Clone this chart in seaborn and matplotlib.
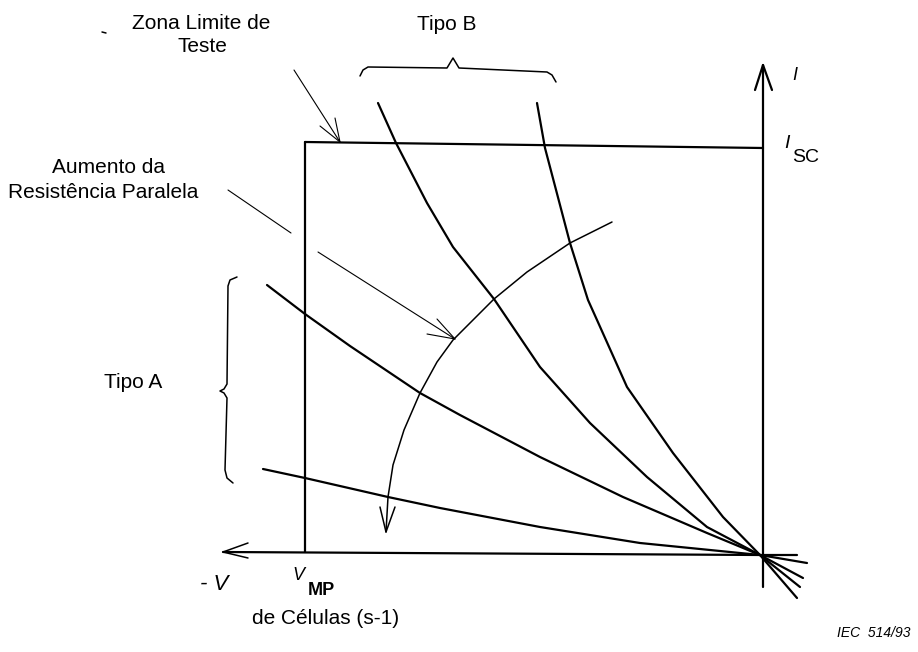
import matplotlib
matplotlib.use("Agg")
import matplotlib.pyplot as plt
import numpy as np
import pandas as pd
import seaborn as sns

# Diagram units: v = voltage (negative to the left of the I axis), i = current.
# Origin sits where the characteristic curves meet the V axis.

# Tipo B characteristic curves (steep)
tipo_b1_v = [-382, -364, -333, -307, -266, -220, -170, -113, -53, 0, 40]
tipo_b1_i = [452, 412, 352, 308, 256, 188, 132, 78, 28, 0, -32]
tipo_b2_v = [-223, -215, -190, -172, -163, -133, -87, -37, 0, 37]
tipo_b2_i = [452, 407, 312, 255, 235, 168, 102, 38, 0, -43]

# Tipo A characteristic curves (shallow)
tipo_a1_v = [-493, -455, -410, -340, -300, -220, -137, -53, 0, 43]
tipo_a1_i = [270, 241, 209, 162, 140, 98, 58, 22, 0, -23]
tipo_a2_v = [-497, -455, -372, -320, -220, -120, 0, 47]
tipo_a2_i = [86, 77, 58, 47, 28, 12, 0, -8]

# Arc showing increasing parallel resistance, with its arrow head
arc_v = [-148, -190, -233, -266, -287, -307, -323, -340, -356, -367, -372, -374]
arc_i = [333, 312, 283, 256, 235, 215, 193, 162, 125, 90, 58, 23]
arc_head_v = [-380, -374, -365]
arc_head_i = [48, 23, 48]

# Axes of the I-V plane and the test limit rectangle
v_axis_v = [-537, 0, 37]
v_axis_i = [3, 0, 0]
v_head_v = [-512, -537, -512]
v_head_i = [12, 3, -3]
i_axis_v = [3, 3]
i_axis_i = [-32, 490]
i_head_v = [-5, 3, 12]
i_head_i = [465, 490, 465]
vmp_line_v = [-455, -455]
vmp_line_i = [3, 413]
isc_line_v = [-455, 3]
isc_line_i = [413, 407]

# Braces
brace_b_v = [-400, -397, -392, -313, -307, -301, -213, -208, -204]
brace_b_i = [479, 485, 488, 487, 497, 487, 483, 480, 473]
brace_a_v = [-523, -530, -532, -533, -536, -540, -536, -533, -535, -533, -527]
brace_a_i = [278, 275, 269, 171, 166, 164, 162, 157, 85, 77, 72]

# Leader lines
zona_leader_v = [-466, -420]
zona_leader_i = [485, 413]
zona_head_v = [-440, -420, -425]
zona_head_i = [429, 413, 437]
aumento_leader1_v = [-532, -469]
aumento_leader1_i = [365, 322]
aumento_leader2_v = [-442, -305]
aumento_leader2_i = [303, 216]
aumento_head_v = [-323, -305, -333]
aumento_head_i = [236, 216, 221]
tick_mark_v = [-658, -654]
tick_mark_i = [523, 522]


def frame(pairs):
    rows = []
    for name, vs, cs in pairs:
        for k, (v, c) in enumerate(zip(vs, cs)):
            rows.append({"curve": name, "order": k, "v": v, "i": c})
    return pd.DataFrame(rows)


heavy = frame([
    ("b1", tipo_b1_v, tipo_b1_i), ("b2", tipo_b2_v, tipo_b2_i),
    ("a1", tipo_a1_v, tipo_a1_i), ("a2", tipo_a2_v, tipo_a2_i),
    ("vax", v_axis_v, v_axis_i), ("iax", i_axis_v, i_axis_i),
    ("vmp", vmp_line_v, vmp_line_i), ("isc", isc_line_v, isc_line_i),
    ("ihead", i_head_v, i_head_i),
])
medium = frame([
    ("arc", arc_v, arc_i), ("archead", arc_head_v, arc_head_i),
    ("vhead", v_head_v, v_head_i),
    ("braceb", brace_b_v, brace_b_i), ("bracea", brace_a_v, brace_a_i),
    ("tick", tick_mark_v, tick_mark_i),
])
light = frame([
    ("zl", zona_leader_v, zona_leader_i), ("zh", zona_head_v, zona_head_i),
    ("al1", aumento_leader1_v, aumento_leader1_i),
    ("al2", aumento_leader2_v, aumento_leader2_i),
    ("ah", aumento_head_v, aumento_head_i),
])

sns.set_theme(style="white")
plt.rcParams["font.family"] = ["Liberation Sans", "DejaVu Sans"]

fig = plt.figure(figsize=(9.18, 6.52), dpi=100)
ax = fig.add_axes([0, 0, 1, 1])

for df, lw in ((heavy, 1.6), (medium, 1.1), (light, 0.8)):
    sns.lineplot(data=df, x="v", y="i", units="curve", estimator=None,
                 sort=False, color="black", linewidth=lw, ax=ax, legend=False,
                 solid_joinstyle="round", solid_capstyle="round")

ax.set_xlim(-760, 158)
ax.set_ylim(-97, 555)
ax.set_axis_off()

txt = dict(color="black", fontsize=15)
ax.text(-559, 526, "Zona Limite de", ha="center", va="baseline", **txt)
ax.text(-558, 503, "Teste", ha="center", va="baseline", **txt)
ax.text(-313, 525, "Tipo B", ha="center", va="baseline", **txt)
ax.text(-652, 382, "Aumento da", ha="center", va="baseline", **txt)
ax.text(-657, 357, "Resistência Paralela", ha="center", va="baseline", **txt)
ax.text(-598, 167, "Tipo A", ha="right", va="baseline", **txt)
ax.text(-434, -69, "de Células (s-1)", ha="center", va="baseline", **txt)

ax.text(-532, -35, "- V", ha="right", va="baseline", fontsize=16,
        style="italic", color="black")
ax.text(-462, -25, "V", ha="center", va="baseline", fontsize=13,
        style="italic", color="black")
ax.text(-452, -40, "MP", ha="left", va="baseline", fontsize=13,
        fontweight="bold", color="black")
ax.text(35, 475, "I", ha="center", va="baseline", fontsize=13,
        style="italic", color="black")
ax.text(27, 407, "I", ha="center", va="baseline", fontsize=14,
        style="italic", color="black")
ax.text(32, 393, "SC", ha="left", va="baseline", fontsize=14, color="black")
ax.text(114, -82, "IEC  514/93", ha="center", va="baseline", fontsize=10,
        style="italic", color="black")

fig.savefig("out.png", dpi=100, facecolor="white")
